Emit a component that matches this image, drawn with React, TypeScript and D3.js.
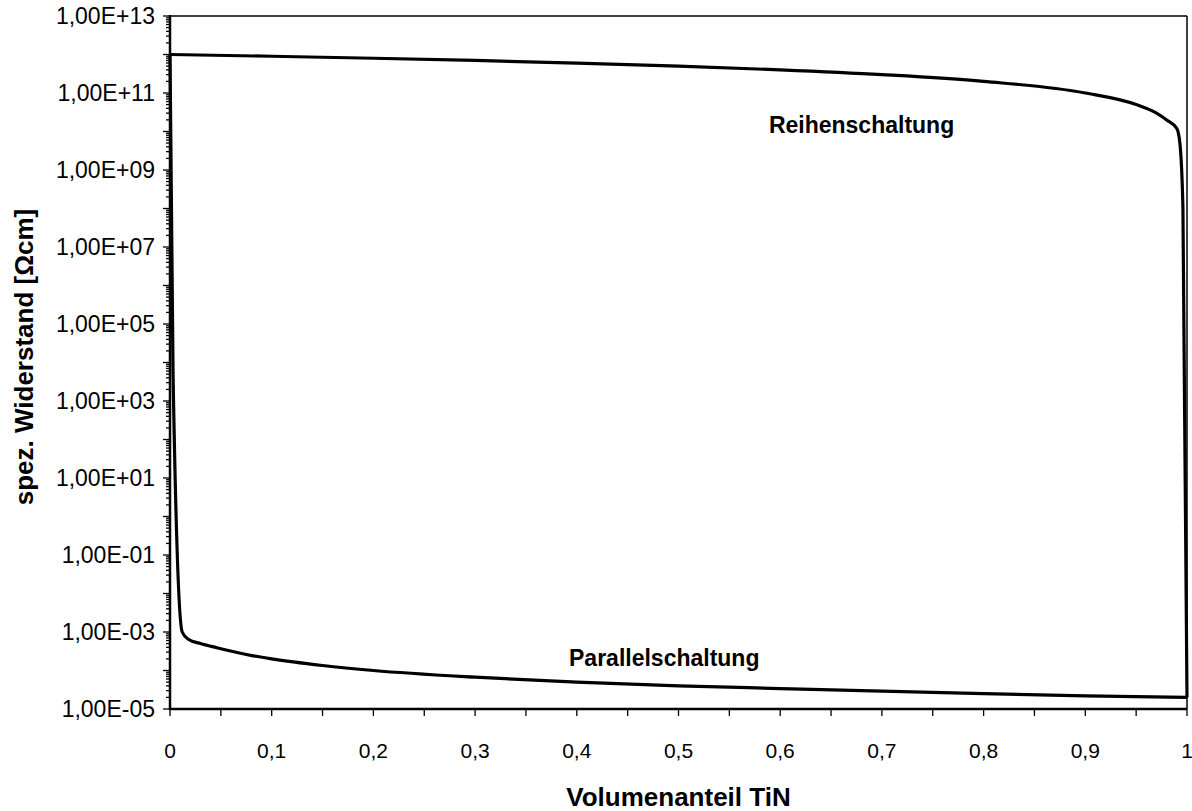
import React, { useEffect, useRef } from 'react';
import * as d3 from 'd3';

// Volumenanteil TiN (x) and spez. Widerstand in Ohm*cm
const reihenX = [0, 0.1, 0.2, 0.3, 0.4, 0.5, 0.6, 0.7, 0.8, 0.9, 0.95, 0.97, 0.98, 0.99, 0.993, 0.996, 1];
const reihenRho = [1e12, 9e11, 8e11, 7e11, 6e11, 5e11, 4e11, 3e11, 2e11, 1e11, 5e10, 3e10, 2e10, 1.2e10, 5e9, 1e8, 2e-5];

const parallelX = [0, 0.003, 0.012, 0.018, 0.03, 0.046, 0.075, 0.1, 0.15, 0.2, 0.3, 0.4, 0.5, 0.6, 0.7, 0.8, 0.9, 1];
const parallelRho = [1e12, 5e3, 1e-3, 6.5e-4, 5e-4, 3.9e-4, 2.6e-4, 2e-4, 1.35e-4, 1e-4, 6.7e-5, 5e-5, 4e-5, 3.4e-5, 2.9e-5, 2.5e-5, 2.2e-5, 2e-5];

const xTickValues = [0, 0.1, 0.2, 0.3, 0.4, 0.5, 0.6, 0.7, 0.8, 0.9, 1];
const yLabelExponents = [13, 11, 9, 7, 5, 3, 1, -1, -3, -5];

const seriesLabels = [
  { text: 'Reihenschaltung', x: 0.68, y: 9e9 },
  { text: 'Parallelschaltung', x: 0.486, y: 1.3e-4 },
];

const App = () => {
  const svgRef = useRef<SVGSVGElement>(null);

  useEffect(() => {
    const svg = d3.select(svgRef.current);
    svg.selectAll('*').remove();

    const width = 1192;
    const height = 811;
    const margin = { top: 16, right: 5, bottom: 102, left: 170 };
    const font = '"Liberation Sans", Arial, sans-serif';

    const x = d3.scaleLinear().domain([0, 1]).range([margin.left, width - margin.right]);
    const y = d3.scaleLog().domain([1e-5, 1e13]).range([height - margin.bottom, margin.top]);

    svg.append('rect').attr('width', width).attr('height', height).attr('fill', 'white');

    // frame: thin top/right, heavy left/bottom axes
    svg.append('line')
      .attr('x1', x(0)).attr('x2', x(1)).attr('y1', y(1e13)).attr('y2', y(1e13))
      .attr('stroke', 'black').attr('stroke-width', 1.5);
    svg.append('line')
      .attr('x1', x(1)).attr('x2', x(1)).attr('y1', y(1e13)).attr('y2', y(1e-5))
      .attr('stroke', 'black').attr('stroke-width', 1.5);

    // y ticks: decades plus 2..9 minors
    const yTicks: { v: number; major: boolean }[] = [];
    for (let e = -5; e <= 13; e++) {
      yTicks.push({ v: Math.pow(10, e), major: true });
      if (e < 13) for (let m = 2; m <= 9; m++) yTicks.push({ v: m * Math.pow(10, e), major: false });
    }
    svg.append('g').selectAll('line').data(yTicks).enter().append('line')
      .attr('x1', d => x(0) - (d.major ? 7 : 4)).attr('x2', x(0))
      .attr('y1', d => y(d.v)).attr('y2', d => y(d.v))
      .attr('stroke', 'black').attr('stroke-width', 1.3);

    svg.append('g').selectAll('text').data(yLabelExponents).enter().append('text')
      .attr('x', 155).attr('y', d => y(Math.pow(10, d)))
      .attr('dy', '0.36em')
      .attr('text-anchor', 'end')
      .style('font-family', font).style('font-size', '23px')
      .text(d => `1,00E${d < 0 ? '-' : '+'}${String(Math.abs(d)).padStart(2, '0')}`);

    // x ticks every 0.05
    const xTicks = d3.range(0, 21).map(i => i * 0.05);
    svg.append('g').selectAll('line').data(xTicks).enter().append('line')
      .attr('x1', d => x(d)).attr('x2', d => x(d))
      .attr('y1', y(1e-5)).attr('y2', y(1e-5) + 7)
      .attr('stroke', 'black').attr('stroke-width', 1.3);

    svg.append('g').selectAll('text').data(xTickValues).enter().append('text')
      .attr('x', d => x(d)).attr('y', 758)
      .attr('text-anchor', 'middle')
      .style('font-family', font).style('font-size', '21px')
      .text(d => String(Math.round(d * 10) / 10).replace('.', ','));

    // axis lines
    svg.append('line')
      .attr('x1', x(0)).attr('x2', x(0)).attr('y1', y(1e13) - 1).attr('y2', y(1e-5) + 1)
      .attr('stroke', 'black').attr('stroke-width', 2.5);
    svg.append('line')
      .attr('x1', x(0) - 1).attr('x2', x(1)).attr('y1', y(1e-5)).attr('y2', y(1e-5))
      .attr('stroke', 'black').attr('stroke-width', 2.5);

    const line = d3.line<[number, number]>()
      .x(d => x(d[0]))
      .y(d => y(d[1]))
      .curve(d3.curveMonotoneX);

    const series = [
      reihenX.map((v, i) => [v, reihenRho[i]] as [number, number]),
      parallelX.map((v, i) => [v, parallelRho[i]] as [number, number]),
    ];
    series.forEach(s => {
      svg.append('path')
        .datum(s)
        .attr('fill', 'none')
        .attr('stroke', 'black')
        .attr('stroke-width', 3.2)
        .attr('stroke-linejoin', 'round')
        .attr('d', line);
    });

    svg.append('g').selectAll('text').data(seriesLabels).enter().append('text')
      .attr('x', d => x(d.x)).attr('y', d => y(d.y))
      .attr('text-anchor', 'middle')
      .style('font-family', font).style('font-size', '23px').style('font-weight', 'bold')
      .text(d => d.text);

    // axis titles
    svg.append('text')
      .attr('x', (x(0) + x(1)) / 2).attr('y', 806)
      .attr('text-anchor', 'middle')
      .style('font-family', font).style('font-size', '26px').style('font-weight', 'bold')
      .text('Volumenanteil TiN');

    svg.append('text')
      .attr('transform', `translate(33,357) rotate(-90)`)
      .attr('text-anchor', 'middle')
      .style('font-family', font).style('font-size', '26px').style('font-weight', 'bold')
      .text('spez. Widerstand [Ωcm]');
  }, []);

  return (
    <svg
      ref={svgRef}
      width={1192}
      height={811}
      style={{ position: 'absolute', left: 0, top: 0, display: 'block' }}
    />
  );
};

export default App;
